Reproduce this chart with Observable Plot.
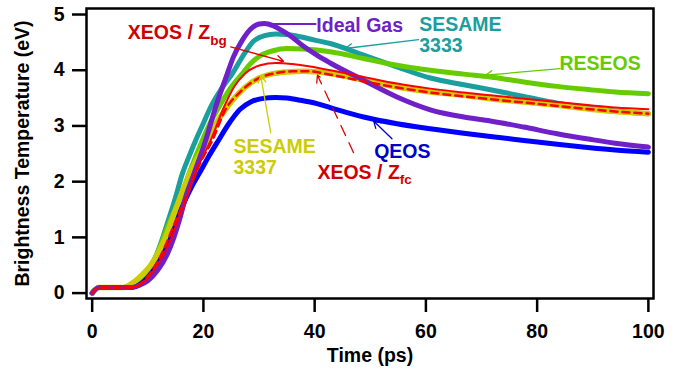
<!DOCTYPE html>
<html>
<head>
<meta charset="utf-8">
<script src="https://cdn.jsdelivr.net/npm/d3@7"></script>
<script src="https://cdn.jsdelivr.net/npm/@observablehq/plot@0.6"></script>
<style>
  html, body { margin: 0; padding: 0; background: #fff; }
</style>
</head>
<body>
<div id="chart"></div>
<script>
// ---- Data (time in ps, brightness temperature in eV) ----
const idealGas = [[0,0],[1.2,0.1],[4,0.1],[7,0.1],[8.5,0.14],[10,0.22],[11.7,0.4],[13.5,0.7],[14.7,1.0],[15.8,1.35],[16.8,1.72],[18.3,2.14],[20.4,2.74],[22.2,3.34],[24.3,3.94],[25.4,4.24],[27,4.54],[28.5,4.74],[30,4.83],[31,4.84],[32.5,4.8],[34,4.72],[35.6,4.62],[38,4.43],[40.4,4.27],[42.8,4.13],[48.8,3.82],[54.8,3.52],[60.8,3.29],[66.8,3.16],[71.6,3.09],[77.6,2.98],[83.6,2.86],[89.5,2.76],[94,2.69],[100,2.62]];
const sesame3333 = [[0,0],[1.2,0.1],[4,0.1],[6,0.1],[7.5,0.14],[9,0.26],[10.5,0.46],[12,0.8],[13.5,1.25],[15,1.72],[16.2,2.14],[17.4,2.45],[18.6,2.74],[20,3.05],[21.3,3.34],[23.2,3.66],[25.2,3.94],[27,4.24],[29,4.52],[31,4.62],[33,4.65],[35,4.64],[37.4,4.6],[40,4.54],[42.8,4.48],[48.8,4.27],[54.8,4.06],[60.8,3.86],[66.8,3.74],[71.6,3.65],[77.6,3.53],[83.6,3.41],[89.5,3.32],[94,3.27],[100,3.22]];
const reseos = [[0,0],[1.2,0.1],[4,0.1],[6,0.1],[7.5,0.15],[9,0.27],[10.5,0.47],[12,0.78],[13.5,1.18],[15,1.52],[15.9,1.72],[17.4,2.14],[19.8,2.74],[21.2,3.05],[22.8,3.34],[24.8,3.67],[27,3.94],[28.5,4.12],[30.2,4.26],[32.5,4.35],[35,4.39],[38,4.38],[42.8,4.33],[48.8,4.21],[54.8,4.09],[60.8,4.0],[66.8,3.93],[71.6,3.88],[77.6,3.79],[83.6,3.71],[89.5,3.65],[94,3.61],[100,3.58]];
const xeosZbg = [[0,0],[1.2,0.1],[4,0.1],[7,0.1],[8.5,0.14],[10,0.27],[11.5,0.47],[13,0.72],[14.3,1.0],[15.6,1.36],[17,1.72],[18.4,2.14],[19.9,2.45],[21.3,2.74],[23.7,3.34],[25.5,3.7],[27.5,3.94],[30.2,4.09],[33,4.13],[36,4.11],[42.8,4.0],[48.8,3.88],[54.8,3.76],[60.8,3.67],[66.8,3.6],[71.6,3.55],[77.6,3.49],[83.6,3.43],[89.5,3.37],[94,3.33],[100,3.3]];
const sesame3337 = [[0,0],[1.2,0.1],[4,0.1],[5.5,0.1],[7.5,0.2],[9,0.33],[10.5,0.5],[12,0.75],[13.5,1.08],[15,1.5],[16.5,1.9],[18.3,2.3],[20.7,2.74],[22.5,3.08],[24.3,3.34],[26.5,3.6],[28.5,3.77],[30.2,3.87],[32.5,3.94],[35,3.97],[38,3.98],[42.8,3.94],[48.8,3.82],[54.8,3.7],[60.8,3.61],[66.8,3.55],[71.6,3.49],[77.6,3.43],[83.6,3.37],[89.5,3.3],[94,3.26],[100,3.22]];
const xeosZfc = [[0,0],[1.2,0.1],[4,0.1],[7,0.1],[8.5,0.15],[10,0.3],[11.7,0.55],[13.2,0.86],[14.4,1.15],[15.6,1.42],[17.4,1.84],[19.5,2.35],[21.6,2.74],[24,3.3],[26.5,3.6],[28.5,3.77],[30.5,3.88],[33,3.95],[36,3.98],[39,3.98],[42.8,3.92],[48.8,3.8],[54.8,3.69],[60.8,3.6],[66.8,3.53],[71.6,3.48],[77.6,3.42],[83.6,3.36],[89.5,3.3],[94,3.26],[100,3.22]];
const qeos = [[0,0],[1.2,0.1],[4,0.1],[7,0.1],[8.5,0.15],[10,0.28],[11.5,0.48],[12.7,0.72],[13.8,1.0],[15,1.3],[16.5,1.62],[18,1.93],[19.2,2.14],[21,2.46],[22.7,2.74],[24.5,3.03],[26.6,3.3],[28.5,3.43],[30.5,3.49],[33,3.51],[35,3.5],[37.5,3.46],[40.4,3.4],[42.8,3.33],[48.8,3.16],[54.8,3.04],[60.8,2.95],[66.8,2.87],[71.6,2.81],[77.6,2.74],[83.6,2.67],[89.5,2.61],[94,2.57],[100,2.53]];

const xTicks = [0, 20, 40, 60, 80, 100];
const yTicks = [0, 1, 2, 3, 4, 5];

// Annotation labels
const labelText = ["Ideal Gas", "SESAME\n3333", "RESEOS", "XEOS / Z_bg", "SESAME\n3337", "XEOS / Z_fc", "QEOS"];
const labelX = [40.3, 58.8, 84.0, 6.4, 25.4, 40.5, 50.7];
const labelY = [4.81, 4.64, 4.12, 4.68, 2.45, 2.18, 2.55];
const labelColor = ["#7020C8", "#1A9E9E", "#66CC00", "#D00000", "#CCCC00", "#D00000", "#0000CC"];

// Annotation pointers
const arrowX1 = [58.7, 84.1, 24.9, 32.1, 53.9];
const arrowY1 = [4.55, 4.03, 4.42, 2.88, 2.77];
const arrowX2 = [45.5, 70.7, 34.4, 30.3, 50.6];
const arrowY2 = [4.39, 3.91, 4.16, 3.90, 3.09];
const arrowColor = ["#1A9E9E", "#66CC00", "#E00000", "#CCCC00", "#0000CC"];
const dashArrow = {x1: 47.0, y1: 2.52, x2: 40.5, y2: 3.91};
const idealLink = {x1: 32.0, y1: 4.83, x2: 40.3, y2: 4.83};

// ---- Build tables ----
const toRows = (arr) => arr.map(([t, v]) => ({t, v}));
const labels = labelText.map((text, i) => ({text, x: labelX[i], y: labelY[i], color: labelColor[i]}));
const arrows = arrowX1.map((x1, i) => ({x1, y1: arrowY1[i], x2: arrowX2[i], y2: arrowY2[i], color: arrowColor[i]}));

const FONT = "'Liberation Sans', Arial, Helvetica, sans-serif";
const curve = "monotone-x";

const chart = Plot.plot({
  width: 677,
  height: 378,
  marginLeft: 86,
  marginRight: 24,
  marginTop: 8,
  marginBottom: 80,
  x: {domain: [-1.02, 100.92]},
  y: {domain: [-0.097, 5.108]},
  style: {fontFamily: FONT, fontSize: "19.5px", fontWeight: "bold", background: "#fff", color: "#000", overflow: "visible"},
  marks: [
    Plot.axisX({ticks: xTicks, tickSize: 14, tickPadding: 12, strokeWidth: 2.5, label: null, tickFormat: d => String(d), fontSize: 19.5, fontWeight: "bold"}),
    Plot.axisY({ticks: yTicks, tickSize: 14, tickPadding: 8, strokeWidth: 2.5, label: null, tickFormat: d => String(d), fontSize: 19.5, fontWeight: "bold"}),
    Plot.text(["Time (ps)"], {frameAnchor: "bottom", dy: 57, lineAnchor: "middle", textAnchor: "middle", fontSize: 19.5, fontWeight: "bold", fill: "#000"}),
    Plot.text(["Brightness Temperature (eV)"], {frameAnchor: "left", dx: -64, rotate: -90, textAnchor: "middle", lineAnchor: "middle", fontSize: 19.5, fontWeight: "bold", fill: "#000"}),
    Plot.line(toRows(sesame3333), {x: "t", y: "v", stroke: "#1A9E9E", strokeWidth: 5, curve}),
    Plot.line(toRows(reseos), {x: "t", y: "v", stroke: "#66CC00", strokeWidth: 5, curve}),
    Plot.line(toRows(qeos), {x: "t", y: "v", stroke: "#0000FF", strokeWidth: 5, curve}),
    Plot.line(toRows(sesame3337), {x: "t", y: "v", stroke: "#CCCC00", strokeWidth: 5.5, curve}),
    Plot.line(toRows(idealGas), {x: "t", y: "v", stroke: "#7020C8", strokeWidth: 5, curve}),
    Plot.line(toRows(xeosZbg), {x: "t", y: "v", stroke: "#FF0000", strokeWidth: 2, curve}),
    Plot.line(toRows(xeosZfc), {x: "t", y: "v", stroke: "#FF0000", strokeWidth: 2.5, strokeDasharray: "7,5", curve}),
    Plot.link([idealLink], {x1: "x1", y1: "y1", x2: "x2", y2: "y2", stroke: "#7020C8", strokeWidth: 1.8}),
    Plot.arrow(arrows, {x1: "x1", y1: "y1", x2: "x2", y2: "y2", stroke: "color", strokeWidth: 1.3, headLength: 9}),
    Plot.arrow([dashArrow], {x1: "x1", y1: "y1", x2: "x2", y2: "y2", stroke: "#E00000", strokeWidth: 1.3, headLength: 9, strokeDasharray: "11,8"}),
    Plot.text(labels, {x: "x", y: "y", text: "text", fill: "color", textAnchor: "start", fontSize: 19.5, fontWeight: "bold", lineHeight: 1.1}),
    Plot.frame({stroke: "#000", strokeWidth: 2.5})
  ]
});

// subscripts (Z_bg, Z_fc)
chart.querySelectorAll("text").forEach(el => {
  if (el.children.length === 0 && el.textContent.includes("_")) {
    const [a, b] = el.textContent.split("_");
    el.textContent = a;
    const ts = document.createElementNS("http://www.w3.org/2000/svg", "tspan");
    ts.setAttribute("dy", "6");
    ts.setAttribute("font-size", "13.5");
    ts.textContent = b;
    el.appendChild(ts);
  }
});

document.getElementById("chart").appendChild(chart);
</script>
</body>
</html>
